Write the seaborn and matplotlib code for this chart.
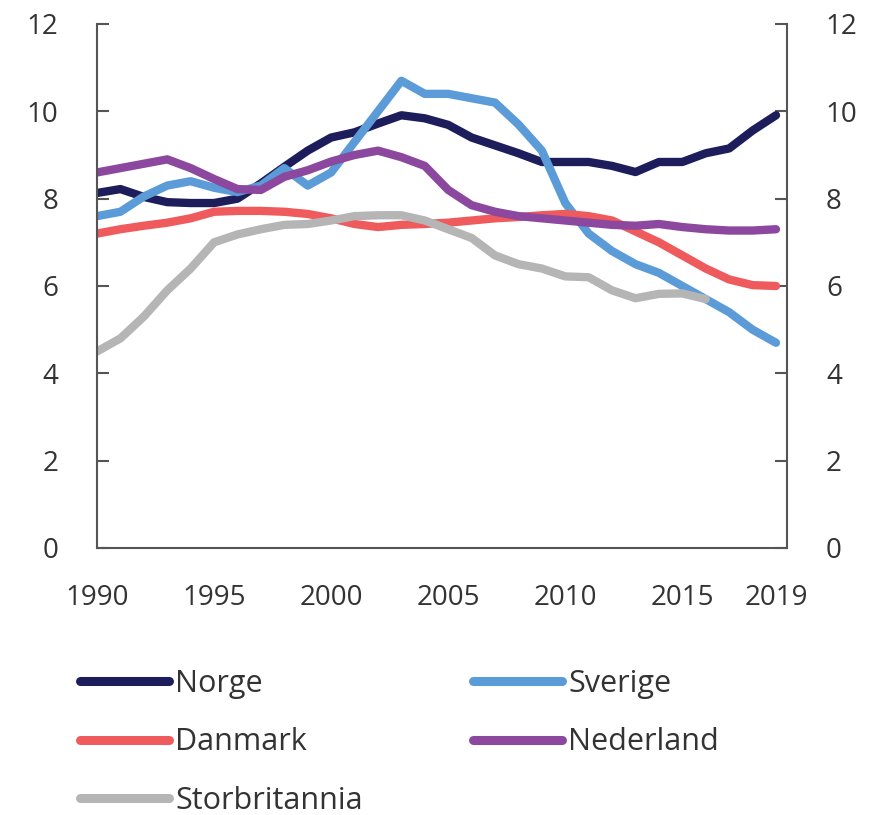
import numpy as np
import pandas as pd
import matplotlib
matplotlib.use('Agg')
import matplotlib.pyplot as plt
import seaborn as sns

# Data
years = list(range(1990, 2020))
norge = [8.13, 8.22, 8.04, 7.92, 7.9, 7.9, 8.0, 8.35, 8.73, 9.1,
         9.4, 9.52, 9.72, 9.91, 9.84, 9.69, 9.4, 9.22, 9.04, 8.84,
         8.84, 8.84, 8.75, 8.61, 8.84, 8.84, 9.04, 9.15, 9.56, 9.91]
sverige = [7.6, 7.7, 8.05, 8.3, 8.4, 8.25, 8.15, 8.3, 8.7, 8.3,
           8.6, 9.3, 10.0, 10.7, 10.4, 10.4, 10.3, 10.2, 9.7, 9.1,
           7.9, 7.2, 6.8, 6.5, 6.3, 6.0, 5.7, 5.4, 5.0, 4.7]
danmark = [7.2, 7.3, 7.38, 7.45, 7.55, 7.7, 7.72, 7.72, 7.7, 7.65,
           7.55, 7.42, 7.35, 7.4, 7.42, 7.45, 7.5, 7.55, 7.58, 7.62,
           7.65, 7.6, 7.5, 7.25, 7.0, 6.7, 6.4, 6.15, 6.02, 6.0]
nederland = [8.6, 8.7, 8.8, 8.9, 8.7, 8.45, 8.22, 8.2, 8.5, 8.65,
             8.85, 9.0, 9.1, 8.95, 8.75, 8.2, 7.85, 7.7, 7.6, 7.55,
             7.5, 7.45, 7.4, 7.38, 7.42, 7.35, 7.3, 7.27, 7.27, 7.3]
storbritannia = [4.5, 4.8, 5.3, 5.9, 6.4, 7.0, 7.18, 7.3, 7.4, 7.42,
                 7.5, 7.6, 7.62, 7.62, 7.5, 7.3, 7.1, 6.7, 6.5, 6.4,
                 6.22, 6.2, 5.9, 5.72, 5.82, 5.83, 5.7, np.nan, np.nan, np.nan]

land = ['Norge', 'Sverige', 'Danmark', 'Nederland', 'Storbritannia']
farger = ['#1d1d5c', '#5b9bd8', '#ef5a5c', '#8c479f', '#b5b5b5']
xticks = [1990, 1995, 2000, 2005, 2010, 2015, 2019]
yticks = [0, 2, 4, 6, 8, 10, 12]

serier = [norge, sverige, danmark, nederland, storbritannia]
df = pd.concat([pd.DataFrame({'år': years, 'verdi': s, 'land': n})
                for n, s in zip(land, serier)]).dropna()

sns.set_style('white')
plt.rcParams['font.family'] = ['Open Sans', 'DejaVu Sans']
tekstfarge = '#333333'

fig = plt.figure(figsize=(8.73, 8.15), dpi=100)
ax = fig.add_axes([97 / 873, 1 - 548 / 815, 690 / 873, 524 / 815])

sns.lineplot(data=df, x='år', y='verdi', hue='land', hue_order=land,
             palette=farger, linewidth=6, ax=ax, legend=True)

ax.set_xlim(1990, 2019.47)
ax.set_ylim(0, 12)
ax.set_xticks(xticks)
ax.set_yticks(yticks)
ax.set_xlabel('')
ax.set_ylabel('')

for side in ['left', 'right', 'bottom']:
    ax.spines[side].set_visible(True)
    ax.spines[side].set_color('#555555')
    ax.spines[side].set_linewidth(1.5)
ax.spines['top'].set_visible(False)

ax.tick_params(axis='y', direction='in', length=8.5, width=1.5, color='#555555',
               left=True, right=True, labelleft=True, labelright=True,
               pad=28, labelsize=20, labelcolor=tekstfarge)
ax.tick_params(axis='x', length=0, pad=26, labelsize=20, labelcolor=tekstfarge)

# Legend ordered so rows read Norge/Sverige, Danmark/Nederland, Storbritannia
handles, labels = ax.get_legend_handles_labels()
ax.get_legend().remove()
oppslag = dict(zip(labels, handles))
rekkefolge = ['Norge', 'Danmark', 'Storbritannia', 'Sverige', 'Nederland']
leg = fig.legend([oppslag[n] for n in rekkefolge], rekkefolge, ncol=2,
                 loc='upper left', bbox_to_anchor=(80 / 873, 1 - 669 / 815),
                 frameon=False, fontsize=22, handlelength=2.9,
                 handletextpad=0.22, columnspacing=3.6, labelspacing=0.93,
                 borderpad=0, borderaxespad=0)
for t in leg.get_texts():
    t.set_color(tekstfarge)
for h in leg.legend_handles:
    h.set_linewidth(6.5)

fig.savefig('out.png', dpi=100)
